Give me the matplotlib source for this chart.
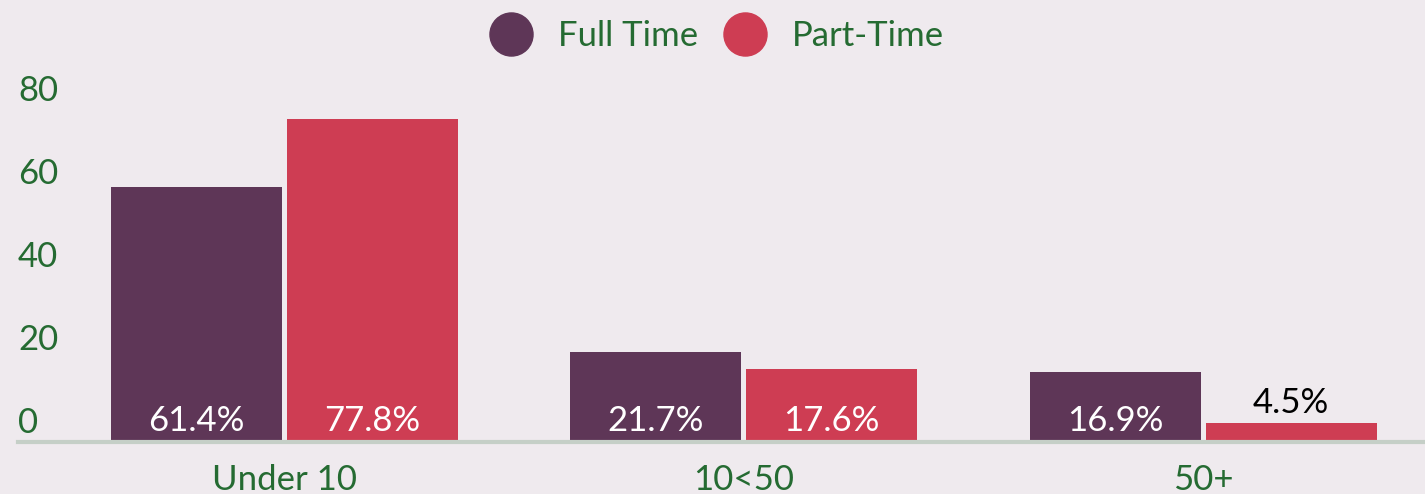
import matplotlib.pyplot as plt
from matplotlib.lines import Line2D
from matplotlib.transforms import offset_copy
import numpy as np

categories = ["Under 10", "10<50", "50+"]
full_time = [61.4, 21.7, 16.9]
part_time = [77.8, 17.6, 4.5]
series_names = ["Full Time", "Part-Time"]
y_ticks = [0, 20, 40, 60, 80]

bg = "#efeaee"
c_full = "#5e3657"
c_part = "#ce3d53"
green = "#256b32"

plt.rcParams["font.family"] = ["Lato", "DejaVu Sans"]

fig = plt.figure(figsize=(14.25, 4.94), dpi=100, facecolor=bg)
ax = fig.add_axes([18 / 1425, 52 / 494, 1407 / 1425, 332 / 494])
ax.set_facecolor(bg)

x = np.arange(len(categories))
w = 0.372
off = 0.1915
b1 = ax.bar(x - off, full_time, w, color=c_full)
b2 = ax.bar(x + off, part_time, w, color=c_part)

ax.set_xlim(-0.579, 2.483)
ax.set_ylim(0, 80)

for s in ["top", "right", "left"]:
    ax.spines[s].set_visible(False)
ax.spines["bottom"].set_color("#c5cfc7")
ax.spines["bottom"].set_linewidth(3)

ax.set_yticks(y_ticks)
ax.set_yticklabels([])
ax.tick_params(axis="y", length=0)
for t in y_ticks:
    ax.text(0, t, str(t), transform=offset_copy(ax.get_yaxis_transform(), fig, x=0, y=9, units="dots"),
            ha="left", va="baseline", fontsize=25, color=green)

ax.set_xticks(x)
ax.set_xticklabels(categories, fontsize=25, color=green)
ax.tick_params(axis="x", length=0, pad=16)

for bars, vals in [(b1, full_time), (b2, part_time)]:
    for rect, v in zip(bars, vals):
        cx = rect.get_x() + rect.get_width() / 2
        if v > 10:
            ax.annotate(f"{v}%", (cx, 0), xytext=(0, 11), textcoords="offset pixels",
                        ha="center", va="baseline", fontsize=25, color="white")
        else:
            ax.annotate(f"{v}%", (cx, v), xytext=(0, 10), textcoords="offset pixels",
                        ha="center", va="baseline", fontsize=25, color="black")

handles = [Line2D([], [], ls="", marker="o", ms=31, color=c_full),
           Line2D([], [], ls="", marker="o", ms=31, color=c_part)]
fig.legend(handles, series_names, loc="center", bbox_to_anchor=(0.503, 0.927), ncol=2,
           frameon=False, fontsize=25, labelcolor=green, handletextpad=0.75, columnspacing=0.75,
           handlelength=1.2)

fig.savefig("out.png", dpi=100, facecolor=bg)
